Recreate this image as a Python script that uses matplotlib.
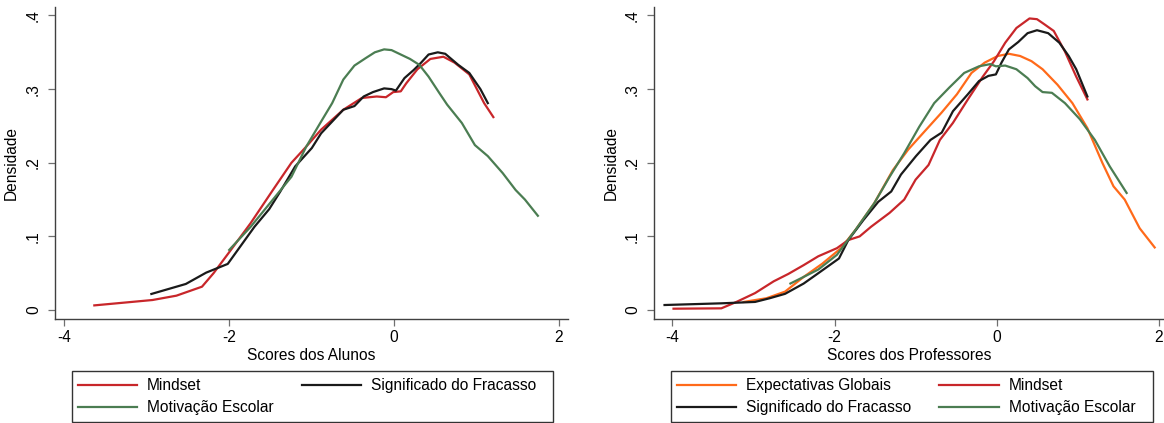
import matplotlib

matplotlib.use("Agg")
import matplotlib.pyplot as plt
from matplotlib.patches import Rectangle

plt.rcParams["font.family"] = ["Liberation Sans", "DejaVu Sans"]
plt.rcParams["axes.unicode_minus"] = False

# --- Alunos (left panel) ---
alunos_mindset_x = [-3.636, -2.93, -2.64, -2.33, -2.19, -2.01, -1.74, -1.47, -1.245, -1.065, -0.885,
                    -0.616, -0.391, -0.211, -0.099, -0.01, 0.081, 0.148, 0.283, 0.44, 0.598, 0.733,
                    0.912, 1.092, 1.204]
alunos_mindset_y = [0.0063, 0.0136, 0.0195, 0.0317, 0.050, 0.077, 0.118, 0.163, 0.200, 0.222, 0.245,
                    0.272, 0.288, 0.290, 0.289, 0.296, 0.297, 0.308, 0.327, 0.341, 0.344, 0.336,
                    0.320, 0.281, 0.262]

alunos_fracasso_x = [-2.944, -2.526, -2.279, -2.018, -1.919, -1.694, -1.515, -1.38, -1.2, -0.998, -0.885,
                     -0.616, -0.481, -0.369, -0.256, -0.121, -0.031, 0.022, 0.126, 0.238, 0.328, 0.418,
                     0.530, 0.620, 0.778, 0.912, 1.047, 1.137]
alunos_fracasso_y = [0.0218, 0.0354, 0.0508, 0.0626, 0.078, 0.113, 0.137, 0.161, 0.195, 0.220, 0.240,
                     0.272, 0.277, 0.290, 0.296, 0.301, 0.300, 0.298, 0.315, 0.326, 0.336, 0.347,
                     0.350, 0.348, 0.333, 0.322, 0.300, 0.281]

alunos_motivacao_x = [-2.0, -1.74, -1.47, -1.245, -1.065, -0.885, -0.751, -0.616, -0.481, -0.346, -0.234,
                      -0.121, -0.031, 0.081, 0.193, 0.306, 0.418, 0.553, 0.643, 0.822, 0.980, 1.137,
                      1.317, 1.474, 1.587, 1.744]
alunos_motivacao_y = [0.0816, 0.113, 0.150, 0.181, 0.222, 0.256, 0.281, 0.313, 0.332, 0.342, 0.350,
                      0.354, 0.353, 0.347, 0.341, 0.333, 0.317, 0.294, 0.279, 0.254, 0.224, 0.209,
                      0.186, 0.163, 0.150, 0.128]

# --- Professores (right panel) ---
prof_expect_x = [-3.12, -2.84, -2.61, -2.38, -2.15, -1.92, -1.74, -1.51, -1.28, -1.09, -0.91, -0.68,
                 -0.49, -0.31, -0.147, 0.014, 0.152, 0.29, 0.43, 0.567, 0.751, 0.935, 1.12, 1.304,
                 1.442, 1.58, 1.765, 1.95]
prof_expect_y = [0.011, 0.016, 0.025, 0.045, 0.063, 0.084, 0.109, 0.145, 0.190, 0.218, 0.240, 0.268,
                 0.293, 0.322, 0.336, 0.345, 0.348, 0.345, 0.338, 0.327, 0.306, 0.281, 0.247, 0.200,
                 0.168, 0.150, 0.111, 0.085]

prof_mindset_x = [-3.986, -3.396, -3.21, -2.98, -2.75, -2.57, -2.38, -2.2, -1.97, -1.83, -1.69, -1.55,
                  -1.32, -1.14, -1.0, -0.84, -0.70, -0.54, -0.355, -0.17, -0.032, 0.106, 0.244, 0.406,
                  0.498, 0.59, 0.705, 0.843, 0.982, 1.12]
prof_mindset_y = [0.0018, 0.0023, 0.011, 0.023, 0.039, 0.049, 0.061, 0.073, 0.084, 0.095, 0.100, 0.113,
                  0.132, 0.150, 0.177, 0.197, 0.231, 0.254, 0.286, 0.317, 0.338, 0.363, 0.383, 0.396,
                  0.395, 0.388, 0.379, 0.351, 0.317, 0.286]

prof_fracasso_x = [-4.097, -3.396, -2.98, -2.80, -2.61, -2.38, -2.2, -1.945, -1.83, -1.645, -1.46, -1.30,
                   -1.18, -0.995, -0.816, -0.677, -0.539, -0.355, -0.217, -0.101, -0.009, 0.06, 0.152,
                   0.267, 0.382, 0.498, 0.636, 0.774, 0.889, 0.982, 1.12]
prof_fracasso_y = [0.0068, 0.0091, 0.011, 0.016, 0.022, 0.036, 0.050, 0.070, 0.095, 0.122, 0.147, 0.161,
                   0.184, 0.209, 0.231, 0.241, 0.270, 0.293, 0.311, 0.318, 0.320, 0.336, 0.354,
                   0.364, 0.376, 0.380, 0.376, 0.363, 0.345, 0.327, 0.290]

prof_motivacao_x = [-2.544, -2.38, -2.2, -1.97, -1.74, -1.51, -1.32, -1.14, -0.954, -0.77, -0.585, -0.40,
                    -0.217, -0.078, -0.009, 0.106, 0.244, 0.382, 0.475, 0.567, 0.682, 0.843, 1.028,
                    1.212, 1.396, 1.604]
prof_motivacao_y = [0.036, 0.045, 0.055, 0.075, 0.109, 0.145, 0.181, 0.213, 0.249, 0.281, 0.302, 0.322,
                    0.331, 0.334, 0.331, 0.332, 0.327, 0.315, 0.304, 0.296, 0.295, 0.281, 0.259,
                    0.231, 0.195, 0.159]

x_ticks = [-4, -2, 0, 2]
y_ticks = [0, 0.1, 0.2, 0.3, 0.4]
y_tick_labels = ["0", ".1", ".2", ".3", ".4"]

RED = "#c8262a"
BLACK = "#1a1a1a"
GREEN = "#4b7d52"
ORANGE = "#ff6a1a"
AXIS = "#404040"
FS = 11.2
W, H = 1164, 423


def style_axes(ax, xlim, xlabel):
    ax.set_xlim(*xlim)
    ax.set_ylim(-0.0126, 0.411)
    ax.set_xticks(x_ticks)
    ax.set_yticks(y_ticks)
    ax.set_yticklabels(y_tick_labels, rotation=90, va="center")
    for side in ("top", "right"):
        ax.spines[side].set_visible(False)
    for side in ("left", "bottom"):
        ax.spines[side].set_color(AXIS)
        ax.spines[side].set_linewidth(1.0)
    ax.tick_params(length=5, width=0.9, color="#707070", labelsize=FS, labelcolor="black")
    ax.tick_params(axis="x", pad=3)
    ax.tick_params(axis="y", pad=5)
    ax.set_xlabel(xlabel, fontsize=FS, labelpad=2)
    ax.set_ylabel("Densidade", fontsize=FS)
    ax.yaxis.set_label_coords(-0.07, 0.5)


def legend_box(fig, handles, labels, x0, x1):
    fig.add_artist(Rectangle((x0 / W, 1 - 422 / H), (x1 - x0) / W, 51 / H,
                             transform=fig.transFigure, fill=False, edgecolor="#333333", lw=1.0))
    fig.legend(handles, labels, ncol=2, frameon=False, loc="upper left",
               bbox_to_anchor=((x0 + 6) / W, 1 - 378 / H), borderpad=0, borderaxespad=0,
               handlelength=3.8, handletextpad=0.65, columnspacing=1.8, labelspacing=0.48,
               fontsize=FS)


fig = plt.figure(figsize=(W / 100, H / 100), dpi=100)

ax1 = fig.add_axes([55 / W, 1 - 319.3 / H, 513.3 / W, 311.9 / H])
l_mind, = ax1.plot(alunos_mindset_x, alunos_mindset_y, color=RED, lw=1.6)
l_frac, = ax1.plot(alunos_fracasso_x, alunos_fracasso_y, color=BLACK, lw=1.6)
l_mot, = ax1.plot(alunos_motivacao_x, alunos_motivacao_y, color=GREEN, lw=1.6)
style_axes(ax1, (-4.113, 2.113), "Scores dos Alunos")
legend_box(fig, [l_mind, l_mot, l_frac],
           ["Mindset", "Motivação Escolar", "Significado do Fracasso"], 72, 553)

ax2 = fig.add_axes([654 / W, 1 - 319.3 / H, 510 / W, 311.9 / H])
r_exp, = ax2.plot(prof_expect_x, prof_expect_y, color=ORANGE, lw=1.6)
r_mind, = ax2.plot(prof_mindset_x, prof_mindset_y, color=RED, lw=1.6)
r_frac, = ax2.plot(prof_fracasso_x, prof_fracasso_y, color=BLACK, lw=1.6)
r_mot, = ax2.plot(prof_motivacao_x, prof_motivacao_y, color=GREEN, lw=1.6)
style_axes(ax2, (-4.227, 2.065), "Scores dos Professores")
legend_box(fig, [r_exp, r_frac, r_mind, r_mot],
           ["Expectativas Globais", "Significado do Fracasso", "Mindset", "Motivação Escolar"],
           671, 1153)

fig.savefig("out.png", dpi=100)
